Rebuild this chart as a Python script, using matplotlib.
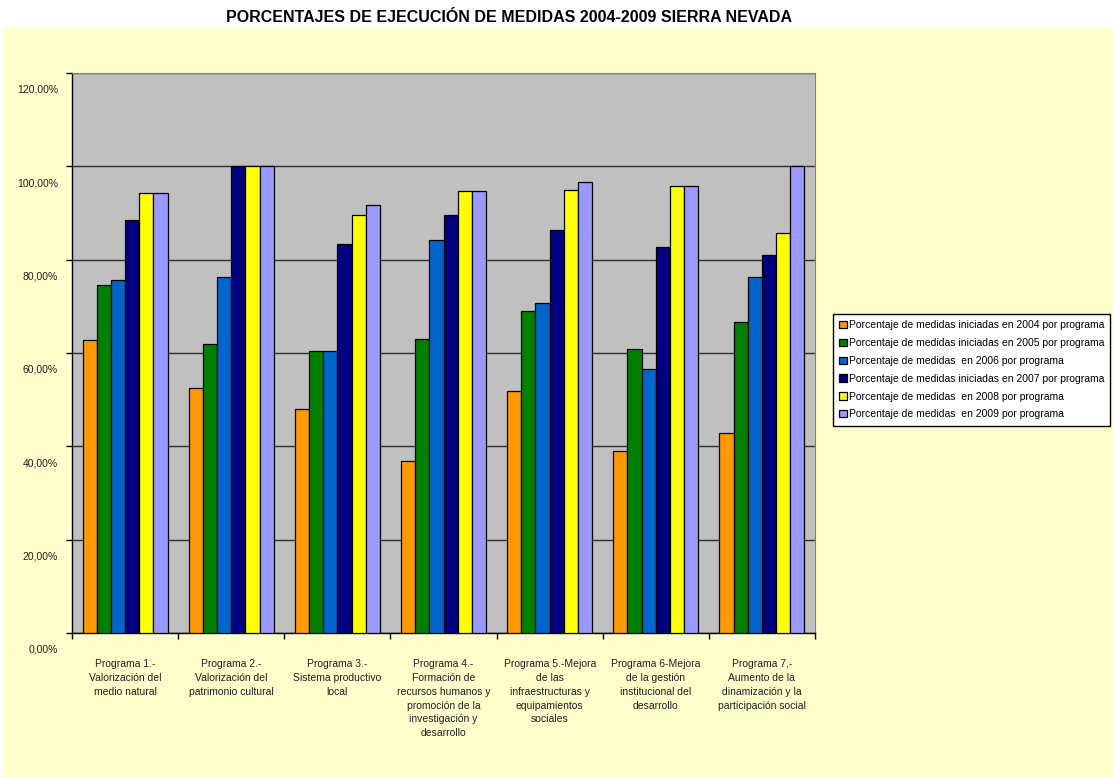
import numpy as np
import matplotlib
matplotlib.use("Agg")
import matplotlib.pyplot as plt
from matplotlib.patches import Rectangle
from matplotlib.transforms import ScaledTranslation

plt.rcParams['font.family'] = ['Liberation Sans', 'DejaVu Sans']

# data (percent)
programas = ["Programa 1.-\nValorización del\nmedio natural",
             "Programa 2.-\nValorización del\npatrimonio cultural",
             "Programa 3.-\nSistema productivo\nlocal",
             "Programa 4.-\nFormación de\nrecursos humanos y\npromoción de la\ninvestigación y\ndesarrollo",
             "Programa 5.-Mejora\nde las\ninfraestructuras y\nequipamientos\nsociales",
             "Programa 6-Mejora\nde la gestión\ninstitucional del\ndesarrollo",
             "Programa 7,-\nAumento de la\ndinamización y la\nparticipación social"]
v2004 = [62.8, 52.4, 47.9, 36.8, 51.8, 39.1, 42.8]
v2005 = [74.5, 61.9, 60.4, 63.1, 69.0, 60.8, 66.6]
v2006 = [75.6, 76.3, 60.4, 84.3, 70.7, 56.5, 76.3]
v2007 = [88.4, 100.0, 83.4, 89.5, 86.3, 82.7, 81.1]
v2008 = [94.2, 100.0, 89.6, 94.8, 94.9, 95.7, 85.7]
v2009 = [94.2, 100.0, 91.7, 94.8, 96.6, 95.7, 100.0]

series_labels = ["Porcentaje de medidas iniciadas en 2004 por programa",
                 "Porcentaje de medidas iniciadas en 2005 por programa",
                 "Porcentaje de medidas  en 2006 por programa",
                 "Porcentaje de medidas iniciadas en 2007 por programa",
                 "Porcentaje de medidas  en 2008 por programa",
                 "Porcentaje de medidas  en 2009 por programa"]
colores = ["#FF9900", "#008000", "#0066CC", "#000080", "#FFFF00", "#9999FF"]
yticks = [0, 20, 40, 60, 80, 100, 120]
ytick_labels = ["0,00%", "20,00%", "40,00%", "60,00%", "80,00%", "100,00%", "120,00%"]

fig = plt.figure(figsize=(11.13, 7.78), dpi=100)
fig.patch.set_facecolor("white")
# light yellow chart area
fig.patches.append(Rectangle((4 / 1113, 0), 1, 1 - 28 / 778, transform=fig.transFigure,
                             facecolor="#FFFFCC", edgecolor="none", zorder=-5))

ax = fig.add_axes([72 / 1113, 1 - 633 / 778, (815 - 72) / 1113, (633 - 73) / 778])
ax.set_facecolor("#C0C0C0")

x = np.arange(len(programas))
w = 0.8 / 6
todos = [v2004, v2005, v2006, v2007, v2008, v2009]
for i, vals in enumerate(todos):
    ax.bar(x - 0.4 + w / 2 + i * w, vals, width=w, color=colores[i],
           edgecolor="black", linewidth=0.9, label=series_labels[i], zorder=3)

ax.set_xlim(-0.5, len(programas) - 0.5)
ax.set_ylim(0, 120)

ax.set_yticks(yticks)
ax.set_yticklabels(ytick_labels, fontsize=7.5, color="#202020")
ax.tick_params(axis="y", direction="out", length=4, width=1, pad=6)
# labels sit a bit below their gridline
off = ScaledTranslation(0, -0.16, fig.dpi_scale_trans)
for lab in ax.get_yticklabels():
    lab.set_transform(lab.get_transform() + off)

ax.set_xticks(x)
ax.set_xticklabels(programas, fontsize=7.5, color="#202020", linespacing=1.47, va="top")
ax.tick_params(axis="x", which="major", length=0, pad=19)
ax.set_xticks(np.arange(-0.5, len(programas), 1.0), minor=True)
ax.tick_params(axis="x", which="minor", direction="out", length=4, width=1)

ax.grid(axis="y", color="#303030", linewidth=1, zorder=1)
ax.set_axisbelow(True)
for s in ["top", "right"]:
    ax.spines[s].set_color("#808080")
for s in ["left", "bottom"]:
    ax.spines[s].set_color("black")
    ax.spines[s].set_linewidth(1)

fig.text(509 / 1113, 1 - 18 / 778, "PORCENTAJES DE EJECUCIÓN DE MEDIDAS 2004-2009 SIERRA NEVADA",
         ha="center", va="center", fontsize=11.5, fontweight="bold")

leg = fig.legend(loc="upper left", bbox_to_anchor=(833 / 1113, 1 - 314 / 778),
                 fontsize=7.5, frameon=True, fancybox=False, edgecolor="black",
                 facecolor="white", framealpha=1,
                 handlelength=0.7, handleheight=0.7, handletextpad=0.2,
                 labelspacing=0.75, borderpad=0.6, borderaxespad=0)
leg.get_frame().set_linewidth(1)

fig.savefig("out.png", dpi=100)
